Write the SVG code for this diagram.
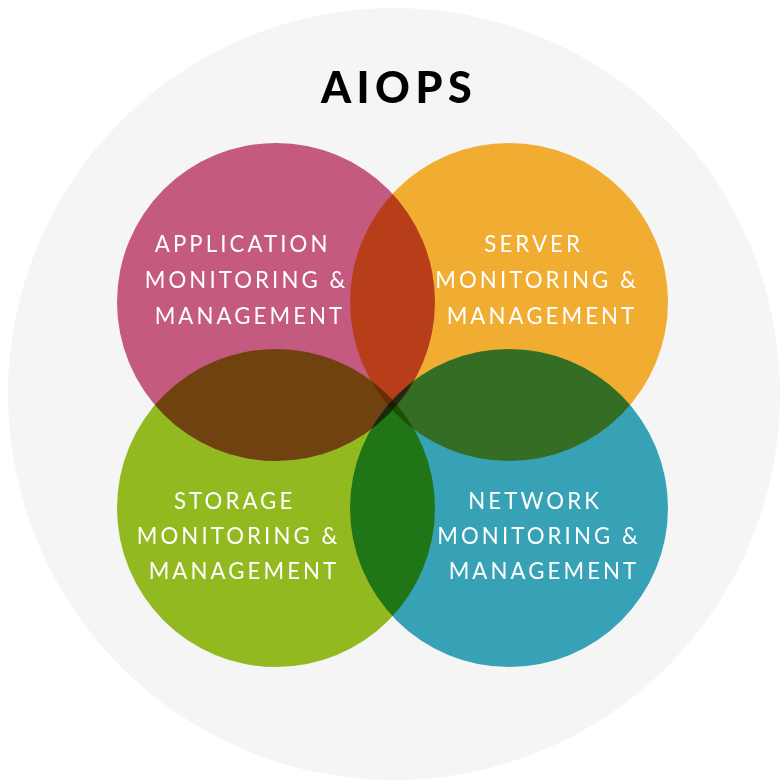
<svg xmlns="http://www.w3.org/2000/svg" width="780" height="781" viewBox="0 0 780 781">
  <style>
    .bg { fill: #f5f5f5; }
    .title { font-family: Lato, "Open Sans", "Liberation Sans", sans-serif; font-weight: 900; font-size: 43px; letter-spacing: 5.5px; fill: #000; }
    .disc { mix-blend-mode: multiply; }
    .label { font-family: Lato, "Open Sans", "Liberation Sans", sans-serif; font-size: 22.2px; letter-spacing: 3.1px; fill: #ffffff; text-anchor: middle; }
  </style>

  <rect width="780" height="781" fill="#ffffff"/>
  <circle class="bg" cx="394" cy="394" r="386"/>

  <text class="title" x="399" y="103" text-anchor="middle">AIOPS</text>

  <!-- overlapping discs multiply against each other inside an isolated layer -->
  <g id="venn" style="isolation: isolate">
    <g id="application">
      <circle class="disc" cx="276" cy="302" r="159" fill="#c45a7f"/>
      <text class="label">
        <tspan x="247" y="252">APPLICATION</tspan>
        <tspan x="251" y="287.5">MONITORING &amp;</tspan>
        <tspan x="250" y="323.5">MANAGEMENT</tspan>
      </text>
    </g>
    <g id="server">
      <circle class="disc" cx="509" cy="302" r="159" fill="#f0ad32"/>
      <text class="label">
        <tspan x="538" y="252">SERVER</tspan>
        <tspan x="541.5" y="287.5">MONITORING &amp;</tspan>
        <tspan x="542" y="323.5">MANAGEMENT</tspan>
      </text>
    </g>
    <g id="storage">
      <circle class="disc" cx="276" cy="508" r="159" fill="#92ba20"/>
      <text class="label">
        <tspan x="239" y="508.5">STORAGE</tspan>
        <tspan x="243" y="543.5">MONITORING &amp;</tspan>
        <tspan x="244" y="578.5">MANAGEMENT</tspan>
      </text>
    </g>
    <g id="network">
      <circle class="disc" cx="509" cy="508" r="159" fill="#37a2b5"/>
      <text class="label">
        <tspan x="539.5" y="508.5">NETWORK</tspan>
        <tspan x="543.5" y="543.5">MONITORING &amp;</tspan>
        <tspan x="544" y="578.5">MANAGEMENT</tspan>
      </text>
    </g>
  </g>

  <g id="connectors"/>
</svg>
